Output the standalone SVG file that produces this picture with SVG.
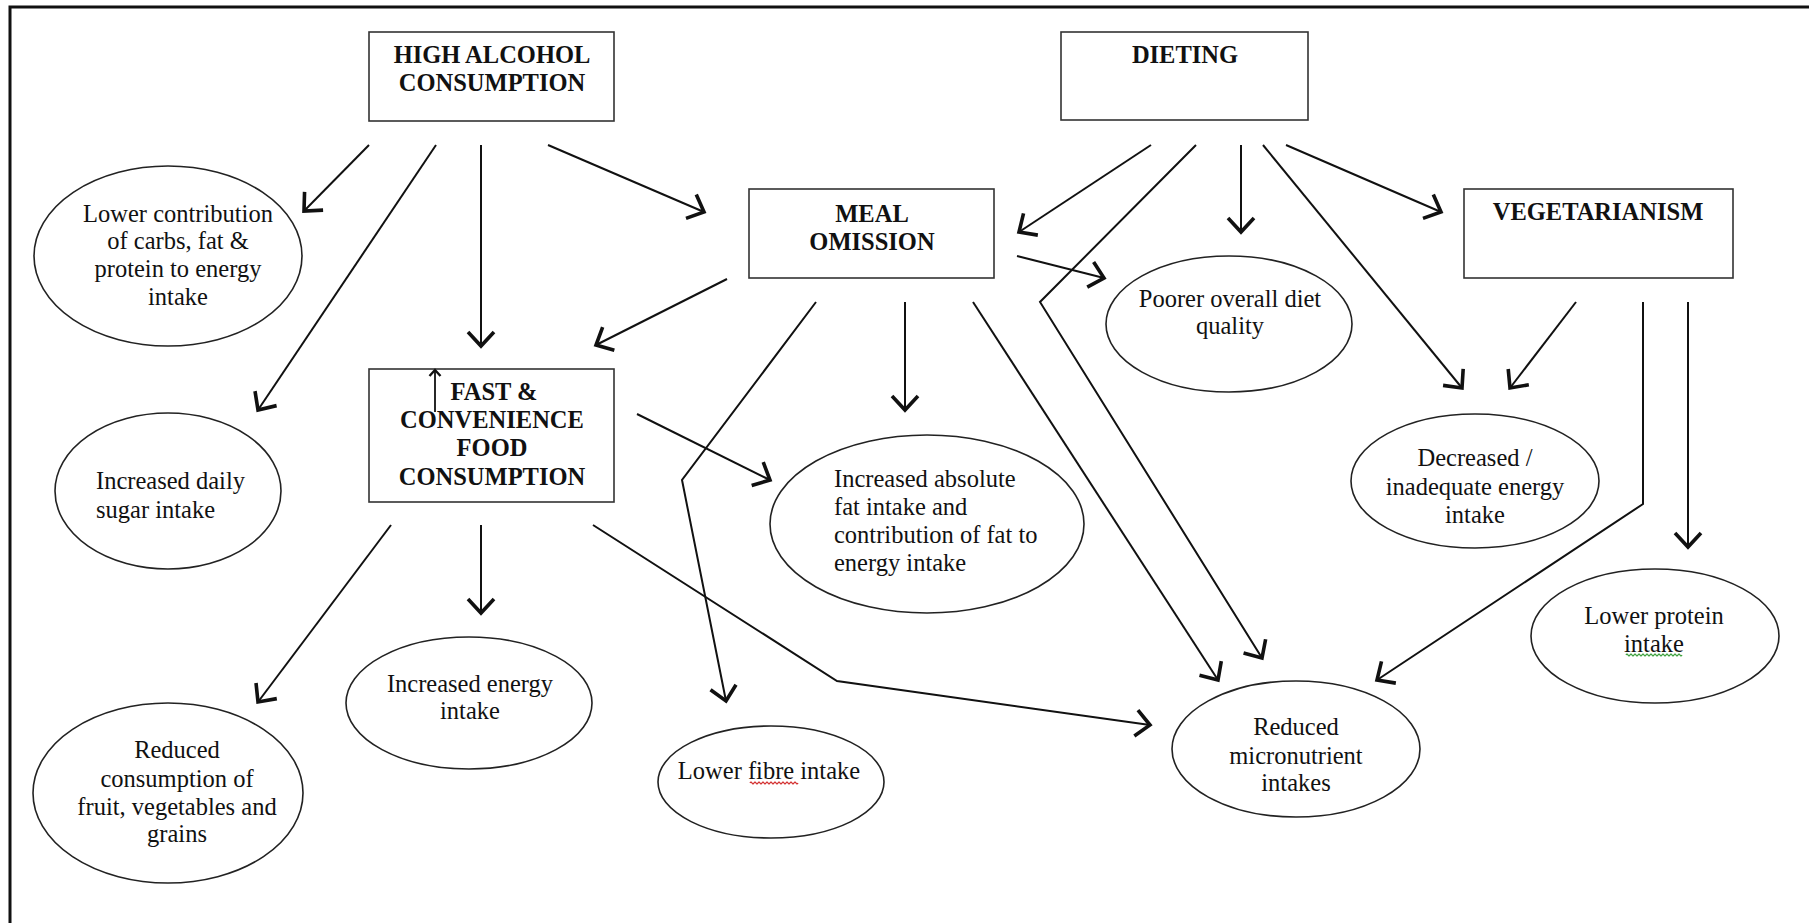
<svg xmlns="http://www.w3.org/2000/svg" width="1809" height="923" viewBox="0 0 1809 923">
  <style>
    .frame { stroke: #111; stroke-width: 3; fill: none; }
    .box { fill: #fff; stroke: #333; stroke-width: 1.6; }
    .oval { fill: #fff; stroke: #222; stroke-width: 1.6; }
    .head { font-family: "Liberation Serif", "Times New Roman", serif; font-size: 24.5px; font-weight: bold; fill: #111; text-anchor: middle; }
    .lbl { font-family: "Liberation Serif", "Times New Roman", serif; font-size: 24.5px; fill: #111; text-anchor: middle; }
    .lbl-left { font-family: "Liberation Serif", "Times New Roman", serif; font-size: 24.5px; fill: #111; text-anchor: start; }
    .link { stroke: #111; stroke-width: 2; fill: none; marker-end: url(#chevron); }
    .link-small { stroke: #111; stroke-width: 1.8; fill: none; marker-end: url(#chevron-small); }
    .squiggle-red { stroke: #d02020; stroke-width: 1.2; fill: none; }
    .squiggle-green { stroke: #2f9a2f; stroke-width: 1.2; fill: none; }
  </style>
  <defs>
    <marker id="chevron" markerUnits="userSpaceOnUse" markerWidth="40" markerHeight="40" viewBox="-20 -20 40 40" refX="0" refY="0" orient="auto" overflow="visible">
      <path d="M-14,-13 L0,0 L-14,13" fill="none" stroke="#111" stroke-width="3.6" stroke-linejoin="miter"/>
    </marker>
    <marker id="chevron-small" markerUnits="userSpaceOnUse" markerWidth="20" markerHeight="20" viewBox="-10 -10 20 20" refX="0" refY="0" orient="auto" overflow="visible">
      <path d="M-6,-5.5 L0,0 L-6,5.5" fill="none" stroke="#111" stroke-width="2.4"/>
    </marker>
  </defs>

  <rect width="1809" height="923" fill="#fff"/>
  <!-- page frame: top and left rule -->
  <path class="frame" d="M10,923 L10,7 L1809,7"/>

  <!-- connectors -->
  <g id="connectors">
    <!-- high alcohol consumption -->
    <line class="link" x1="369" y1="145" x2="304" y2="211"/>
    <line class="link" x1="436" y1="145" x2="258" y2="410"/>
    <line class="link" x1="481" y1="145" x2="481" y2="346"/>
    <line class="link" x1="548" y1="145" x2="704" y2="212"/>
    <!-- dieting -->
    <line class="link" x1="1151" y1="145" x2="1019" y2="232"/>
    <polyline class="link" points="1196,145 1040,302 1262,658"/>
    <line class="link" x1="1241" y1="145" x2="1241" y2="232"/>
    <line class="link" x1="1263" y1="145" x2="1462" y2="388"/>
    <line class="link" x1="1286" y1="145" x2="1441" y2="212"/>
    <!-- meal omission -->
    <line class="link" x1="727" y1="279" x2="596" y2="345"/>
    <polyline class="link" points="816,302 682,480 726,701"/>
    <line class="link" x1="905" y1="302" x2="905" y2="410"/>
    <line class="link" x1="973" y1="302" x2="1218" y2="680"/>
    <line class="link" x1="1017" y1="256" x2="1104" y2="278"/>
    <!-- fast & convenience food -->
    <line class="link" x1="391" y1="525" x2="258" y2="702"/>
    <line class="link" x1="481" y1="525" x2="481" y2="613"/>
    <line class="link" x1="637" y1="414" x2="770" y2="480"/>
    <polyline class="link" points="593,525 837,681 1150,725"/>
    <!-- vegetarianism -->
    <line class="link" x1="1576" y1="302" x2="1510" y2="388"/>
    <polyline class="link" points="1643,302 1643,504 1377,680"/>
    <line class="link" x1="1688" y1="302" x2="1688" y2="547"/>
  </g>

  <!-- cause boxes -->
  <g id="high-alcohol">
    <rect class="box" x="369" y="32" width="245" height="89"/>
    <text class="head" x="492" y="63">HIGH ALCOHOL</text>
    <text class="head" x="492" y="91">CONSUMPTION</text>
  </g>
  <g id="dieting">
    <rect class="box" x="1061" y="32" width="247" height="88"/>
    <text class="head" x="1185" y="63">DIETING</text>
  </g>
  <g id="meal-omission">
    <rect class="box" x="749" y="189" width="245" height="89"/>
    <text class="head" x="872" y="222">MEAL</text>
    <text class="head" x="872" y="250">OMISSION</text>
  </g>
  <g id="vegetarianism">
    <rect class="box" x="1464" y="189" width="269" height="89"/>
    <text class="head" x="1598" y="220">VEGETARIANISM</text>
  </g>
  <g id="fast-food">
    <rect class="box" x="369" y="369" width="245" height="133"/>
    <text class="head" x="494" y="400">FAST &amp;</text>
    <text class="head" x="492" y="428">CONVENIENCE</text>
    <text class="head" x="492" y="456">FOOD</text>
    <text class="head" x="492" y="485">CONSUMPTION</text>
    <line class="link-small" x1="435" y1="412" x2="435" y2="370"/>
  </g>

  <!-- outcome ovals -->
  <g id="lower-contribution">
    <ellipse class="oval" cx="168" cy="256" rx="134" ry="90"/>
    <text class="lbl" x="178" y="222">Lower contribution</text>
    <text class="lbl" x="178" y="249">of carbs, fat &amp;</text>
    <text class="lbl" x="178" y="277">protein to energy</text>
    <text class="lbl" x="178" y="305">intake</text>
  </g>
  <g id="daily-sugar">
    <ellipse class="oval" cx="168" cy="491" rx="113" ry="78"/>
    <text class="lbl-left" x="96" y="489">Increased daily</text>
    <text class="lbl-left" x="96" y="518">sugar intake</text>
  </g>
  <g id="reduced-fruit-veg">
    <ellipse class="oval" cx="168" cy="793" rx="135" ry="90"/>
    <text class="lbl" x="177" y="758">Reduced</text>
    <text class="lbl" x="177" y="787">consumption of</text>
    <text class="lbl" x="177" y="815">fruit, vegetables and</text>
    <text class="lbl" x="177" y="842">grains</text>
  </g>
  <g id="energy-intake">
    <ellipse class="oval" cx="469" cy="703" rx="123" ry="66"/>
    <text class="lbl" x="470" y="692">Increased energy</text>
    <text class="lbl" x="470" y="719">intake</text>
  </g>
  <g id="fat-intake">
    <ellipse class="oval" cx="927" cy="524" rx="157" ry="89"/>
    <text class="lbl-left" x="834" y="487">Increased absolute</text>
    <text class="lbl-left" x="834" y="515">fat intake and</text>
    <text class="lbl-left" x="834" y="543">contribution of fat to</text>
    <text class="lbl-left" x="834" y="571">energy intake</text>
  </g>
  <g id="fibre-intake">
    <ellipse class="oval" cx="771" cy="782" rx="113" ry="56"/>
    <text class="lbl" x="769" y="779">Lower fibre intake</text>
    <path class="squiggle-red" d="M750,783 q1,-2 2,0 t2,0 t2,0 t2,0 t2,0 t2,0 t2,0 t2,0 t2,0 t2,0 t2,0 t2,0 t2,0 t2,0 t2,0 t2,0 t2,0 t2,0 t2,0 t2,0 t2,0 t2,0 t2,0 t2,0"/>
  </g>
  <g id="diet-quality">
    <ellipse class="oval" cx="1229" cy="324" rx="123" ry="68"/>
    <text class="lbl" x="1230" y="307">Poorer overall diet</text>
    <text class="lbl" x="1230" y="334">quality</text>
  </g>
  <g id="energy-inadequate">
    <ellipse class="oval" cx="1475" cy="481" rx="124" ry="67"/>
    <text class="lbl" x="1475" y="466">Decreased /</text>
    <text class="lbl" x="1475" y="495">inadequate energy</text>
    <text class="lbl" x="1475" y="523">intake</text>
  </g>
  <g id="micronutrients">
    <ellipse class="oval" cx="1296" cy="749" rx="124" ry="68"/>
    <text class="lbl" x="1296" y="735">Reduced</text>
    <text class="lbl" x="1296" y="764">micronutrient</text>
    <text class="lbl" x="1296" y="791">intakes</text>
  </g>
  <g id="protein-intake">
    <ellipse class="oval" cx="1655" cy="636" rx="124" ry="67"/>
    <text class="lbl" x="1654" y="624">Lower protein</text>
    <text class="lbl" x="1654" y="652">intake</text>
    <path class="squiggle-green" d="M1626,655 q1,-2 2,0 t2,0 t2,0 t2,0 t2,0 t2,0 t2,0 t2,0 t2,0 t2,0 t2,0 t2,0 t2,0 t2,0 t2,0 t2,0 t2,0 t2,0 t2,0 t2,0 t2,0 t2,0 t2,0 t2,0 t2,0 t2,0 t2,0 t2,0"/>
  </g>
</svg>
